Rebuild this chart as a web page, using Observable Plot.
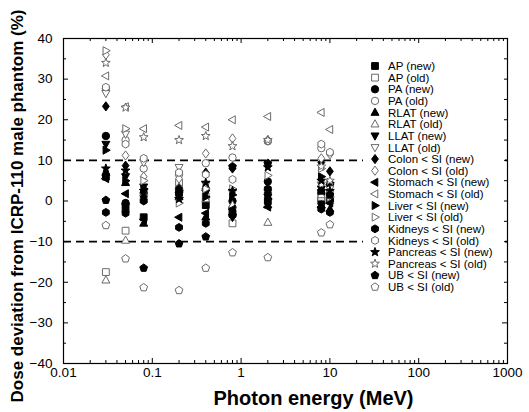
<!DOCTYPE html>
<html>
<head>
<meta charset="utf-8">
<script src="https://cdn.jsdelivr.net/npm/d3@7"></script>
<script src="https://cdn.jsdelivr.net/npm/@observablehq/plot@0.6"></script>
<style>
  html, body { margin: 0; padding: 0; background: #fff; }
  #chart { position: relative; width: 529px; height: 412px; overflow: hidden; }
</style>
</head>
<body>
<div id="chart"></div>
<script>
// ---- Data ----
const energies = [0.03, 0.05, 0.08, 0.2, 0.4, 0.8, 2, 8, 10];

const seriesNames = [
  "AP (new)", "AP (old)", "PA (new)", "PA (old)", "RLAT (new)", "RLAT (old)",
  "LLAT (new)", "LLAT (old)", "Colon < SI (new)", "Colon < SI (old)",
  "Stomach < SI (new)", "Stomach < SI (old)", "Liver < SI (new)", "Liver < SI (old)",
  "Kidneys < SI (new)", "Kidneys < SI (old)", "Pancreas < SI (new)", "Pancreas < SI (old)",
  "UB < SI (new)", "UB < SI (old)"
];

const apNew       = [6, -2, -4, 2, -1, -3, 0, 0, 1];
const apOld       = [-17.5, -7.3, 0.5, 4.5, 1, -5.5, 2, 1, 2];
const paNew       = [16, -0.5, 2, 3, 3, 0, 4.8, 2, 0];
const paOld       = [27.7, 15, 8, 6.5, 9.3, 10.7, 14.7, 13, 4];
const rlatNew     = [7, 4.5, -5.5, 1, -4, -1, -1, -1, -2];
const rlatOld     = [-19.5, -9.7, 2, 3.5, 0.5, -1, -5.3, 1.5, 0];
const llatNew     = [14, 6, 3.5, 1.5, 2, -4, 1, 3, 3.5];
const llatOld     = [26.5, 16.5, 9.5, 8.3, 4, 2, 2.2, 4, 3];
const colonNew    = [23.3, 8.7, 1, 3, 7, 8, 2, 9.5, 7.3];
const colonOld    = [36, 11.2, 6, 5.5, 11.7, 15.4, 15, 10.5, 11.5];
const stomachNew  = [5.5, 1.8, -4.5, -4, -3, -2, -1.5, -1.5, -0.5];
const stomachOld  = [30.8, 23.2, 17.8, 18.6, 18.2, 20, 20.8, 21.8, 17.6];
const liverNew    = [12.5, 5, 3, 2.5, 1, 1.5, 0.5, 6, 4.5];
const liverOld    = [37, 17.8, 5, -0.5, 3, 3, 6.3, 8, 1];
const kidneysNew  = [-2.8, -3, 0, -6.5, -5.5, -3.5, 3, -2, -2.8];
const kidneysOld  = [28, 14, 10.5, 7, 6.5, 5.3, 14.8, 14, 12];
const pancreasNew = [8, 7.5, 2.5, 0.5, 4.5, 2.5, 8.3, 5, 2.5];
const pancreasOld = [34, 23, 15.7, 15, 16, 13.5, 15, 8.5, 5];
const ubNew       = [0.2, -1, -16.5, -10.5, -8.8, 8.5, 9.3, 2.5, 1.5];
const ubOld       = [-6, -14.2, -21.3, -22, -16.5, -12.7, -13.9, -7.8, -5.8];

const seriesValues = [apNew, apOld, paNew, paOld, rlatNew, rlatOld, llatNew, llatOld,
  colonNew, colonOld, stomachNew, stomachOld, liverNew, liverOld,
  kidneysNew, kidneysOld, pancreasNew, pancreasOld, ubNew, ubOld];

const xMajor = [0.01, 0.1, 1, 10, 100, 1000];
const yMajor = [-40, -30, -20, -10, 0, 10, 20, 30, 40];
const yMinor = [-35, -25, -15, -5, 5, 15, 25, 35];
const limits = [-10, 10];

// ---- Custom symbols (size -> r = sqrt(size/pi)) ----
const R = s => Math.sqrt(s / Math.PI);
function poly(ctx, pts) { ctx.moveTo(pts[0][0], pts[0][1]); for (let i = 1; i < pts.length; i++) ctx.lineTo(pts[i][0], pts[i][1]); ctx.closePath(); }
const symSquare = { draw(ctx, s) { const r = R(s) * 0.85; ctx.rect(-r, -r, 2 * r, 2 * r); } };
const symCircle = { draw(ctx, s) { const r = R(s) * 0.92; ctx.moveTo(r, 0); ctx.arc(0, 0, r, 0, 2 * Math.PI); } };
const symTriUp = { draw(ctx, s) { const r = R(s); poly(ctx, [[0, -1.1 * r], [1.0 * r, 0.7 * r], [-1.0 * r, 0.7 * r]]); } };
const symTriDown = { draw(ctx, s) { const r = R(s); poly(ctx, [[0, 1.1 * r], [1.0 * r, -0.7 * r], [-1.0 * r, -0.7 * r]]); } };
const symTriLeft = { draw(ctx, s) { const r = R(s); poly(ctx, [[-1.1 * r, 0], [0.7 * r, -1.0 * r], [0.7 * r, 1.0 * r]]); } };
const symTriRight = { draw(ctx, s) { const r = R(s); poly(ctx, [[1.1 * r, 0], [-0.7 * r, -1.0 * r], [-0.7 * r, 1.0 * r]]); } };
const symDiamond = { draw(ctx, s) { const r = R(s); poly(ctx, [[0, -1.15 * r], [0.85 * r, 0], [0, 1.15 * r], [-0.85 * r, 0]]); } };
const symHexagon = { draw(ctx, s) { const r = R(s) * 0.98; const p = []; for (let k = 0; k < 6; k++) { const a = Math.PI / 6 + k * Math.PI / 3; p.push([r * Math.cos(a), r * Math.sin(a)]); } poly(ctx, p); } };
const symStar = { draw(ctx, s) { const ro = R(s) * 1.15, ri = ro * 0.42; const p = []; for (let k = 0; k < 10; k++) { const a = -Math.PI / 2 + k * Math.PI / 5; const rr = k % 2 ? ri : ro; p.push([rr * Math.cos(a), rr * Math.sin(a)]); } poly(ctx, p); } };
const symPentagon = { draw(ctx, s) { const r = R(s) * 1.02; const p = []; for (let k = 0; k < 5; k++) { const a = -Math.PI / 2 + k * 2 * Math.PI / 5; p.push([r * Math.cos(a), r * Math.sin(a)]); } poly(ctx, p); } };

const shapeList = [symSquare, symSquare, symCircle, symCircle, symTriUp, symTriUp, symTriDown, symTriDown,
  symDiamond, symDiamond, symTriLeft, symTriLeft, symTriRight, symTriRight,
  symHexagon, symHexagon, symStar, symStar, symPentagon, symPentagon];

const isNew = name => name.includes("(new)");
const fillOf = name => isNew(name) ? "#000000" : "#ffffff";
const strokeOf = name => isNew(name) ? "#000000" : "#6a6a6a";

const data = seriesNames.flatMap((name, si) =>
  energies.map((e, i) => ({ series: name, e, v: seriesValues[si][i] })));

// ---- Layout ----
const W = 529, H = 412, mL = 63, mR = 22, mT = 38, mB = 49;
const fw = W - mL - mR, fh = H - mT - mB;
const xMinor = [];
for (const d of [0.01, 0.1, 1, 10, 100]) for (let k = 2; k <= 9; k++) xMinor.push(+(d * k).toPrecision(3));
const MAJ = 5, MIN = 3;

const plot = Plot.plot({
  width: W, height: H,
  marginLeft: mL, marginRight: mR, marginTop: mT, marginBottom: mB,
  style: { fontFamily: "Liberation Sans, Arial, sans-serif", color: "#000", background: "#fff" },
  x: { type: "log", domain: [0.01, 1000] },
  y: { domain: [-40, 40] },
  color: { type: "identity" },
  symbol: { domain: seriesNames, range: shapeList },
  marks: [
    Plot.ruleY(limits, { stroke: "#000", strokeWidth: 1.6, strokeDasharray: "8,5" }),
    // inward ticks on all four sides
    Plot.tickX(xMajor, { x: d => d, insetTop: fh - MAJ, stroke: "#000" }),
    Plot.tickX(xMinor, { x: d => d, insetTop: fh - MIN, stroke: "#000" }),
    Plot.tickX(xMajor, { x: d => d, insetBottom: fh - MAJ, stroke: "#000" }),
    Plot.tickX(xMinor, { x: d => d, insetBottom: fh - MIN, stroke: "#000" }),
    Plot.tickY(yMajor, { y: d => d, insetRight: fw - MAJ, stroke: "#000" }),
    Plot.tickY(yMinor, { y: d => d, insetRight: fw - MIN, stroke: "#000" }),
    Plot.tickY(yMajor, { y: d => d, insetLeft: fw - MAJ, stroke: "#000" }),
    Plot.tickY(yMinor, { y: d => d, insetLeft: fw - MIN, stroke: "#000" }),
    Plot.axisX(xMajor, { tickSize: 0, tickPadding: 4, fontSize: 13.5, tickFormat: d => String(d), label: null }),
    Plot.axisY(yMajor, { tickSize: 0, tickPadding: 11, fontSize: 13.5, label: null }),
    Plot.frame({ stroke: "#000", strokeWidth: 1.2 }),
    Plot.dot(data, {
      x: "e", y: "v", symbol: "series", r: 4,
      fill: d => fillOf(d.series), stroke: d => strokeOf(d.series), strokeWidth: 1
    }),
    Plot.text(["Photon energy (MeV)"], { frameAnchor: "bottom", textAnchor: "middle", dx: 28, dy: 41, fontSize: 20, fontWeight: "bold", text: d => d }),
    Plot.text(["Dose deviation from ICRP-110 male phantom (%)"], { frameAnchor: "left", textAnchor: "middle", rotate: -90, dx: -46, dy: 5, fontSize: 17, fontWeight: "bold", text: d => d })
  ]
});

document.getElementById("chart").appendChild(plot);

// ---- Legend inside the plot area (opaque white box, as in the reference) ----
const svg = d3.select(plot);
const lx = 375, ly = 66, lstep = 11.63;
const lg = svg.append("g")
  .attr("font-family", "Liberation Sans, Arial, sans-serif")
  .attr("font-size", 11.5)
  .attr("text-anchor", "start");
lg.append("rect")
  .attr("x", lx - 12).attr("y", ly - 8)
  .attr("width", W - mR - 3 - (lx - 12))
  .attr("height", lstep * seriesNames.length + 4)
  .attr("fill", "#fff");
seriesNames.forEach((name, i) => {
  const g = lg.append("g").attr("transform", `translate(${lx},${ly + i * lstep})`);
  g.append("path")
    .attr("d", d3.symbol(shapeList[i], 16 * Math.PI)())
    .attr("fill", fillOf(name)).attr("stroke", strokeOf(name)).attr("stroke-width", 1);
  g.append("text").attr("x", 13).attr("y", 4.1).attr("fill", "#000").attr("text-anchor", "start").text(name);
});
</script>
</body>
</html>
